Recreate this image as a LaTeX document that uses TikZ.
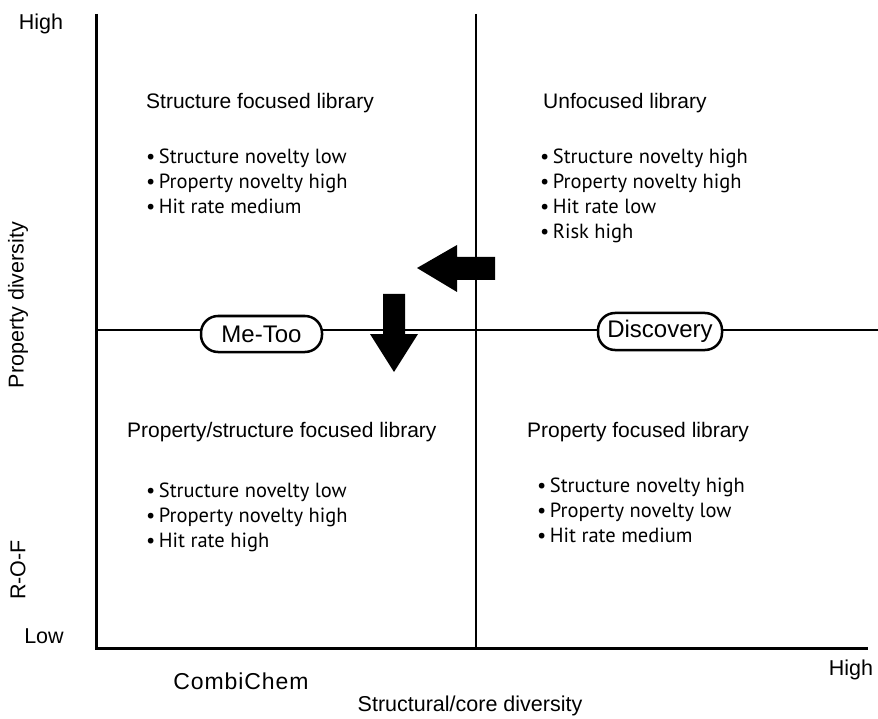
\documentclass[tikz,border=0pt]{standalone}
\usepackage{fontspec}
\setmainfont{Liberation Sans}
\newfontfamily\listfont{PT Sans}
\begin{document}
\begin{tikzpicture}[x=1pt,y=-1pt,
  lbl/.style={font=\fontsize{21.5}{24}\selectfont, inner sep=0pt},
  head/.style={font=\fontsize{21}{24}\selectfont, anchor=west, inner sep=0pt},
  item/.style={font=\listfont\fontsize{20.5}{24}\selectfont, anchor=base west, inner sep=0pt},
  pill/.style={draw, line width=2.5pt, rounded corners=17pt, fill=white, minimum width=121pt, minimum height=36pt, inner sep=0pt, font=\fontsize{24}{26}\selectfont},
  blockarrow/.style={fill=black, draw=none}]
\useasboundingbox (0,0) rectangle (878,719);

% corner points of the frame and the dividers
\coordinate (top) at (96,14);
\coordinate (origin) at (96,648);
\coordinate (xend) at (868,648);
\coordinate (vtop) at (476,14);
\coordinate (vbot) at (476,648);
\coordinate (hleft) at (96,330);
\coordinate (hright) at (878,330);

% quadrant dividers
\draw[line width=1.4pt] (vtop) -- (vbot);
\draw[line width=1.4pt] (hleft) -- (hright);
% axes
\draw[line width=3pt] (top) -- (origin) -- (xend);

% axis labels
\node[lbl] (yhigh) at (41,24) {High};
\node[lbl] (ylow) at (44,636) {Low};
\node[lbl, rotate=90] (ytitle) at (18,305) {Property diversity};
\node[lbl, rotate=90] (rof) at (18,570) {R-O-F};
\node[lbl, font=\fontsize{23}{26}\selectfont] (combi) at (241,681) {\addfontfeatures{LetterSpace=4}CombiChem};
\node[lbl] (xhigh) at (851,670) {High};
\node[lbl] (xtitle) at (470,706) {Structural/core diversity};

% upper left quadrant
\node[head] (q1h) at (146,103) {Structure focused library};
\node[item] (q1a) at (146,164) {\textbullet\,Structure novelty low};
\node[item] (q1b) at (146,189) {\textbullet\,Property novelty high};
\node[item] (q1c) at (146,214) {\textbullet\,Hit rate medium};

% upper right quadrant
\node[head] (q2h) at (543,103) {Unfocused library};
\node[item] (q2a) at (540,164) {\textbullet\,Structure novelty high};
\node[item] (q2b) at (540,189) {\textbullet\,Property novelty high};
\node[item] (q2c) at (540,214) {\textbullet\,Hit rate low};
\node[item] (q2d) at (540,239) {\textbullet\,Risk high};

% lower left quadrant
\node[head] (q3h) at (127,432) {Property/structure focused library};
\node[item] (q3a) at (146,497) {\textbullet\,Structure novelty low};
\node[item] (q3b) at (146,522) {\textbullet\,Property novelty high};
\node[item] (q3c) at (146,547) {\textbullet\,Hit rate high};

% lower right quadrant
\node[head] (q4h) at (527,432) {Property focused library};
\node[item] (q4a) at (537,492) {\textbullet\,Structure novelty high};
\node[item] (q4b) at (537,517) {\textbullet\,Property novelty low};
\node[item] (q4c) at (537,542) {\textbullet\,Hit rate medium};

% labels on the horizontal divider
\node[pill] (metoo) at (261.5,334) {Me-Too};
\node[pill, minimum width=124pt, minimum height=37pt] (disc) at (660,331.5) {Discovery};

% block arrows
\fill[blockarrow] (495,257) -- (457,257) -- (457,245) -- (417,268) -- (457,292) -- (457,280) -- (495,280) -- cycle;
\fill[blockarrow] (383,294) -- (405,294) -- (405,334) -- (418,334) -- (394,372) -- (370,334) -- (383,334) -- cycle;
\end{tikzpicture}
\end{document}
